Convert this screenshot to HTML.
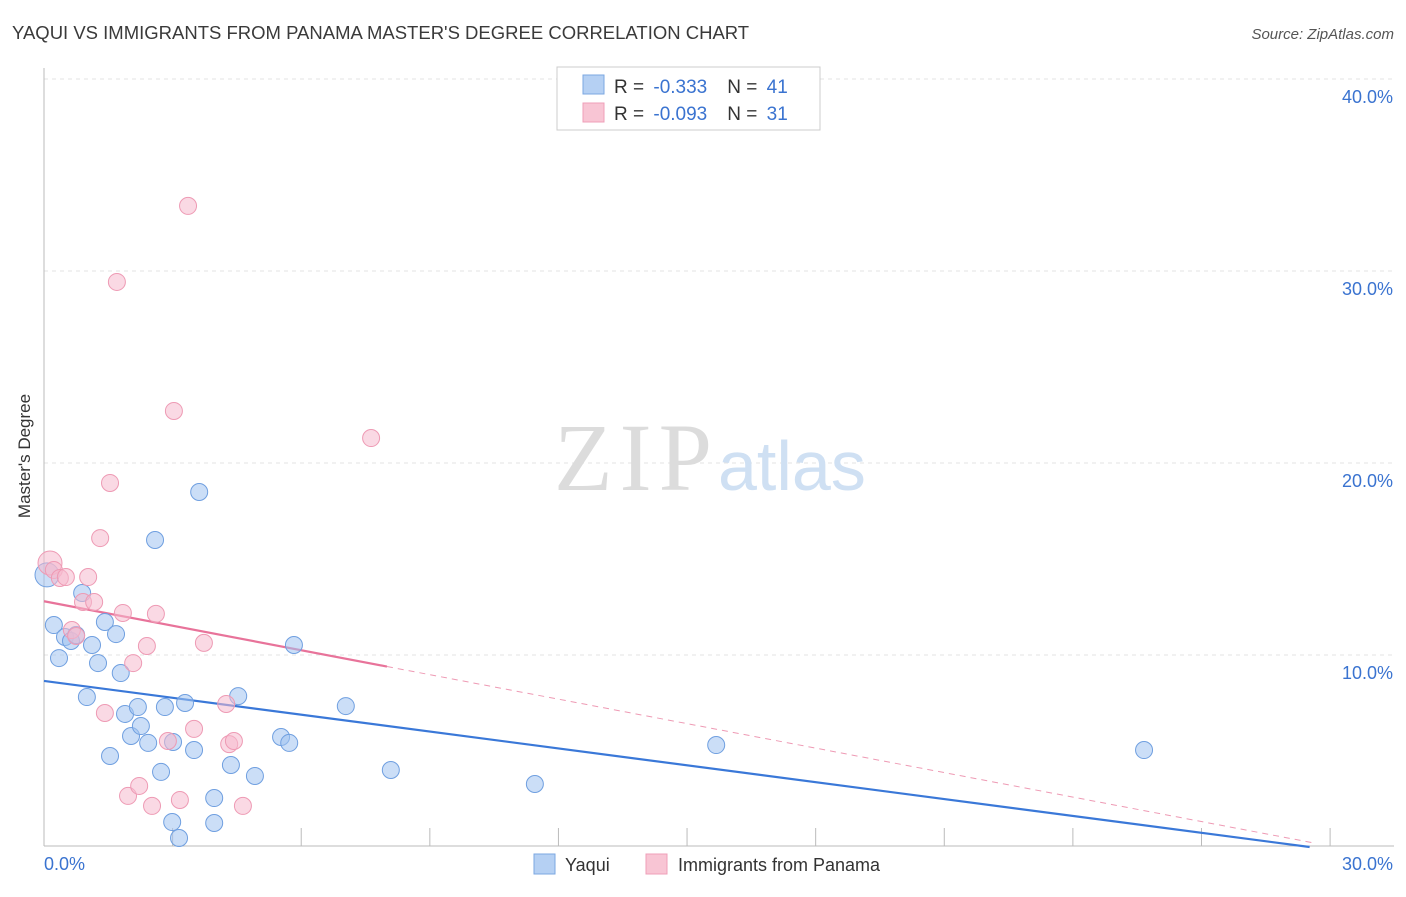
<!DOCTYPE html>
<html><head><meta charset="utf-8"><style>
body{margin:0;background:#fff;font-family:"Liberation Sans",sans-serif;}
</style></head><body>
<svg width="1406" height="892" xmlns="http://www.w3.org/2000/svg" style="font-family:'Liberation Sans',sans-serif">
<text x="12" y="39" font-size="18.5" fill="#3a3a3a">YAQUI VS IMMIGRANTS FROM PANAMA MASTER'S DEGREE CORRELATION CHART</text>
<text x="1394" y="39" font-size="15" fill="#555" text-anchor="end" font-style="italic">Source: ZipAtlas.com</text>
<text x="30" y="456" font-size="17" fill="#333" text-anchor="middle" transform="rotate(-90 30 456)">Master's Degree</text>
<g id="grid"></g>
<g id="axes"></g>
<text x="554" y="490" font-size="96" fill="#dcdcdc" font-family="Liberation Serif,serif" textLength="158">ZIP</text>
<text x="718" y="490" font-size="70" fill="#cfe0f3">atlas</text>
<g id="trend"></g>
<g id="pts"></g>
<g>
<rect x="557" y="67" width="263" height="63" fill="#fff" stroke="#ccc"/>
<rect x="583" y="75" width="21" height="19" fill="#b5d0f3" stroke="#7ba7e2"/>
<rect x="583" y="103" width="21" height="19" fill="#f8c5d4" stroke="#ef9fb8"/>
<text x="614" y="93" font-size="19" fill="#333">R = <tspan fill="#3a73d0" dx="4">-0.333</tspan><tspan dx="20">N = </tspan><tspan fill="#3a73d0" dx="4">41</tspan></text>
<text x="614" y="120" font-size="19" fill="#333">R = <tspan fill="#3a73d0" dx="4">-0.093</tspan><tspan dx="20">N = </tspan><tspan fill="#3a73d0" dx="4">31</tspan></text>
</g>
<g>
<rect x="534" y="854" width="21" height="20" fill="#b5d0f3" stroke="#7ba7e2"/>
<text x="565" y="871" font-size="18" fill="#333">Yaqui</text>
<rect x="646" y="854" width="21" height="20" fill="#f8c5d4" stroke="#ef9fb8"/>
<text x="678" y="871" font-size="18" fill="#333">Immigrants from Panama</text>
</g>
</svg>
<script>
const blueX=[0.07,0.23,0.35,0.49,0.63,0.75,0.89,1.0,1.12,1.26,1.42,1.54,1.68,1.79,1.89,2.03,2.19,2.26,2.43,2.59,2.73,2.82,2.99,3.01,3.15,3.29,3.50,3.62,3.97,3.97,4.36,4.53,4.92,5.53,5.72,5.83,7.04,8.09,11.45,15.68,25.66];
const blueY=[14.17,11.56,9.84,10.94,10.73,11.04,13.23,7.81,10.52,9.58,11.72,4.74,11.09,9.06,6.93,5.78,7.29,6.30,5.42,15.99,3.91,7.29,1.30,5.47,0.47,7.50,5.05,18.49,2.55,1.25,4.27,7.86,3.70,5.73,5.42,10.52,7.34,4.01,3.28,5.31,5.05];
const pinkX=[0.14,0.23,0.37,0.51,0.65,0.75,0.91,1.03,1.17,1.31,1.42,1.54,1.70,1.84,1.96,2.08,2.22,2.40,2.52,2.61,2.89,3.03,3.17,3.36,3.50,3.73,4.25,4.32,4.43,4.64,7.63];
const pinkY=[14.79,14.43,14.01,14.06,11.30,10.99,12.76,14.06,12.76,16.09,6.98,18.96,29.43,12.19,2.66,9.58,3.18,10.47,2.14,12.14,5.52,22.71,2.45,33.39,6.15,10.63,7.45,5.36,5.52,2.14,21.30];
const blueTrend=[8.65,-0.293];
const pinkTrend=[12.8,-0.425];
const yTicks=[10,20,30,40];
const yTickLabels=["10.0%","20.0%","30.0%","40.0%"];
const xTicks=[0,3,6,9,12,15,18,21,24,27,30];
const NS="http://www.w3.org/2000/svg";
const sx=v=>44+v*42.87, sy=v=>847-v*19.2;
function mk(t,a,p){const e=document.createElementNS(NS,t);for(const k in a)e.setAttribute(k,a[k]);p.appendChild(e);return e;}
const grid=document.getElementById('grid'),axes=document.getElementById('axes');
yTicks.forEach((v,i)=>{
 const l=mk('line',{x1:44,x2:1394,y1:sy(v),y2:sy(v),stroke:'#e3e3e3','stroke-dasharray':'4 4'},grid);
 
 
 const t=mk('text',{x:1393,y:sy(v)+24,'font-size':18,fill:'#3a73d0','text-anchor':'end'},axes);t.textContent=yTickLabels[i];
 
 
});
mk('line',{x1:44,x2:44,y1:68,y2:846,stroke:'#bbb'},axes);
mk('line',{x1:44,x2:1394,y1:846,y2:846,stroke:'#bbb'},axes);
xTicks.forEach(v=>{const l=mk('line',{x1:sx(v),x2:sx(v),y1:828,y2:846,stroke:'#bbb'},axes);
 
 });
let t=mk('text',{x:44,y:870,'font-size':18,fill:'#3a73d0'},axes);t.textContent='0.0%';


t=mk('text',{x:1393,y:870,'font-size':18,fill:'#3a73d0','text-anchor':'end'},axes);t.textContent='30.0%';


const tr=document.getElementById('trend');
const bx1=-blueTrend[0]/blueTrend[1];
let l=mk('line',{x1:sx(0),y1:sy(blueTrend[0]),x2:sx(bx1),y2:sy(0),stroke:'#3a78d8','stroke-width':2.2},tr);


l=mk('line',{x1:sx(0),y1:sy(pinkTrend[0]),x2:sx(8),y2:sy(pinkTrend[0]+pinkTrend[1]*8),stroke:'#e8739a','stroke-width':2.2},tr);


l=mk('line',{x1:sx(8),y1:sy(pinkTrend[0]+pinkTrend[1]*8),x2:sx(29.6),y2:sy(pinkTrend[0]+pinkTrend[1]*29.6),stroke:'#ee9ab4','stroke-width':1,'stroke-dasharray':'6 5'},tr);


const pts=document.getElementById('pts');
blueX.forEach((x,i)=>{const c=mk('circle',{cx:sx(x),cy:sy(blueY[i]),r:i==0?12:8.5,fill:'rgba(160,195,240,0.55)',stroke:'#6f9fe0','stroke-width':1},pts);
 
 });
pinkX.forEach((x,i)=>{const c=mk('circle',{cx:sx(x),cy:sy(pinkY[i]),r:i==0?12:8.5,fill:'rgba(246,185,205,0.55)',stroke:'#ee9ab4','stroke-width':1},pts);
 
 });
</script>
</body></html>
